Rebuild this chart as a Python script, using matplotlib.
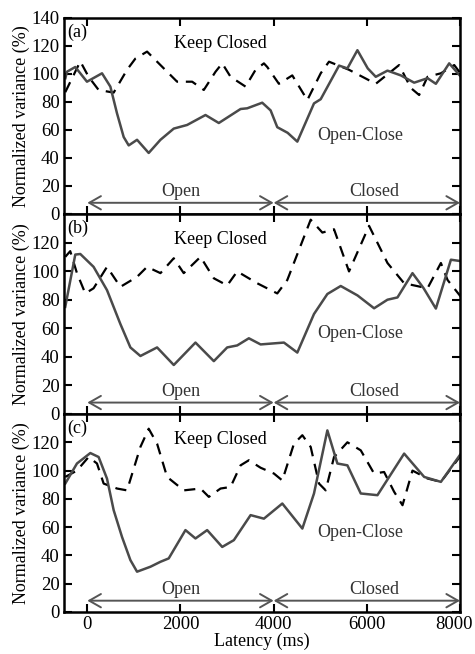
import matplotlib
matplotlib.use("Agg")
import matplotlib.pyplot as plt
from matplotlib.transforms import ScaledTranslation

# ---- data ----
a_solid_x = [-470, -437, -258, -7, 316, 495, 637, 781, 889, 1068, 1318, 1570, 1856, 2143, 2537, 2823, 3290, 3433, 3755, 3935, 4078, 4300, 4508, 4866, 5010, 5404, 5583, 5798, 6020, 6192, 6443, 6730, 7016, 7303, 7482, 7768, 8020]
a_solid_y = [97, 101.6, 105, 94.5, 100.5, 91, 72, 55, 49, 53, 43.6, 53, 61, 63.6, 70.7, 65, 75, 75.5, 79.5, 74, 62, 58, 51.7, 79, 82, 106, 104, 117, 104, 98, 102.4, 99, 93.8, 97, 93, 107.6, 98]
a_dash_x = [-473, -150, 28, 243, 566, 853, 1032, 1283, 1570, 1928, 2251, 2501, 2752, 2896, 3075, 3397, 3612, 3791, 3863, 4113, 4400, 4723, 5010, 5188, 5618, 6192, 6693, 6945, 7123, 7303, 7590, 7876, 8020]
a_dash_y = [87, 109, 98, 88.6, 86.7, 103, 111, 116, 106.4, 94.5, 94.5, 88.6, 101.6, 107.6, 98, 91, 103, 107.6, 105, 93, 99, 81.4, 100.5, 108.8, 103, 93, 106.4, 90, 85, 98, 100.5, 106.4, 100]

b_solid_x = [-473, -258, -150, 135, 423, 710, 925, 1140, 1498, 1856, 2322, 2716, 3003, 3218, 3468, 3720, 4221, 4508, 4866, 5153, 5440, 5800, 6156, 6443, 6658, 6980, 7220, 7482, 7805, 8020]
b_solid_y = [75, 111.6, 112, 103, 86.7, 63, 46.6, 40.6, 46.6, 34.3, 50, 37, 46.6, 48, 53, 48.7, 50, 43, 70, 84, 89.6, 83, 74, 80, 81.6, 98.6, 88, 73.8, 108, 107]
b_dash_x = [-473, -366, -222, -43, 135, 423, 710, 1068, 1283, 1570, 1856, 2070, 2430, 2716, 3003, 3218, 3648, 4078, 4293, 4795, 5046, 5296, 5618, 6048, 6443, 6801, 7303, 7590, 7733, 8020]
b_dash_y = [110, 114, 98.6, 84.4, 88, 103, 89, 96, 103, 98.6, 109, 98.6, 110, 95, 90, 99.8, 91.5, 84.4, 93.8, 136, 127, 129.3, 99.8, 131.7, 105.7, 91.5, 88, 105.7, 93.8, 82]

c_solid_x = [-473, -222, 65, 243, 423, 566, 746, 925, 1068, 1355, 1570, 1748, 2107, 2322, 2573, 2896, 3146, 3505, 3791, 4186, 4616, 4866, 5153, 5368, 5583, 5870, 6228, 6801, 7231, 7590, 8020]
c_solid_y = [90.8, 105, 112.4, 109.6, 94.3, 72, 53, 36.7, 28.5, 32, 35.5, 37.9, 57.9, 52, 57.9, 46, 50.8, 68.5, 66, 76.7, 59, 83.8, 128.4, 105, 103.7, 83.8, 82.6, 112, 95.5, 92, 112]
c_dash_x = [-473, -222, 28, 208, 351, 638, 853, 1140, 1318, 1498, 1713, 2071, 2430, 2609, 2860, 3075, 3290, 3468, 3720, 4006, 4186, 4436, 4616, 4795, 4974, 5117, 5296, 5583, 5870, 6156, 6371, 6586, 6766, 6980, 7303, 7590, 8020]
c_dash_y = [95.5, 100, 109.6, 105, 90.8, 87.3, 86, 116.7, 129.6, 119, 95.5, 86, 87.3, 81.4, 87.3, 88.4, 103.7, 107.3, 102, 97.9, 93, 119, 125, 116.7, 90.8, 86, 109.6, 120, 114.3, 97.9, 99, 85, 75.5, 100, 94.4, 92, 110.8]

panel_labels = ["(a)", "(b)", "(c)"]
x_ticks = [0, 2000, 4000, 6000, 8000]
y_ticks = [0, 20, 40, 60, 80, 100, 120, 140]
period_labels = ["Open", "Closed"]
period_bounds = [0, 4000, 8000]

panels = [
    (a_solid_x, a_solid_y, a_dash_x, a_dash_y),
    (b_solid_x, b_solid_y, b_dash_x, b_dash_y),
    (c_solid_x, c_solid_y, c_dash_x, c_dash_y),
]

plt.rcParams['font.family'] = ['Liberation Serif', 'DejaVu Serif']

fig = plt.figure(figsize=(4.75, 6.54), dpi=100)
W, H = 475.0, 654.0
left, right = 64 / W, 460 / W
rows = [(18, 214), (214, 414), (414, 612)]

for i, ((sx, sy, dx, dy), (top, bot)) in enumerate(zip(panels, rows)):
    ax = fig.add_axes([left, 1 - bot / H, right - left, (bot - top) / H])
    ax.plot(dx, dy, color='black', lw=1.6, ls=(0, (5, 3.5)), solid_joinstyle='round')
    ax.plot(sx, sy, color='#4a4a4a', lw=1.8, solid_joinstyle='round')
    ax.set_xlim(-500, 8000)
    ax.set_ylim(0, 140)
    ax.set_xticks(x_ticks)
    ax.set_yticks(y_ticks)
    if i == 0:
        ax.set_yticklabels([str(v) for v in y_ticks])
    else:
        ax.set_yticklabels([str(v) for v in y_ticks[:-1]] + [""])
    ax.set_ylabel("Normalized variance (%)", fontsize=13, labelpad=1)
    ax.tick_params(direction='in', length=6, width=1.5, top=True, right=True,
                   labelsize=13.5, pad=3)
    if i < 2:
        ax.set_xticklabels([])
    else:
        ax.set_xlabel("Latency (ms)", fontsize=13, labelpad=0)
        last = ax.get_xticklabels()[-1]
        last.set_transform(last.get_transform() + ScaledTranslation(-6 / 100, 0, fig.dpi_scale_trans))
    for sp in ax.spines.values():
        sp.set_linewidth(1.8)
    ax.text(-430, 130, panel_labels[i], fontsize=13, va='center', ha='left')
    ax.text(2850, 122, "Keep Closed", fontsize=13, ha='center', va='center')
    ax.text(5850, 56, "Open-Close", fontsize=13, ha='center', va='center', color='#333333')
    for j in range(2):
        ax.annotate("", xy=(period_bounds[j], 8), xytext=(period_bounds[j + 1], 8),
                    arrowprops=dict(arrowstyle='<->,head_length=0.7,head_width=0.4',
                                    mutation_scale=12,
                                    color='#555555', lw=1.4, shrinkA=0, shrinkB=0))
    ax.text(2000, 12.5, period_labels[0], fontsize=13, ha='center', va='baseline', color='#333333')
    ax.text(6150, 12.5, period_labels[1], fontsize=13, ha='center', va='baseline', color='#333333')

fig.savefig("out.png", dpi=100)
